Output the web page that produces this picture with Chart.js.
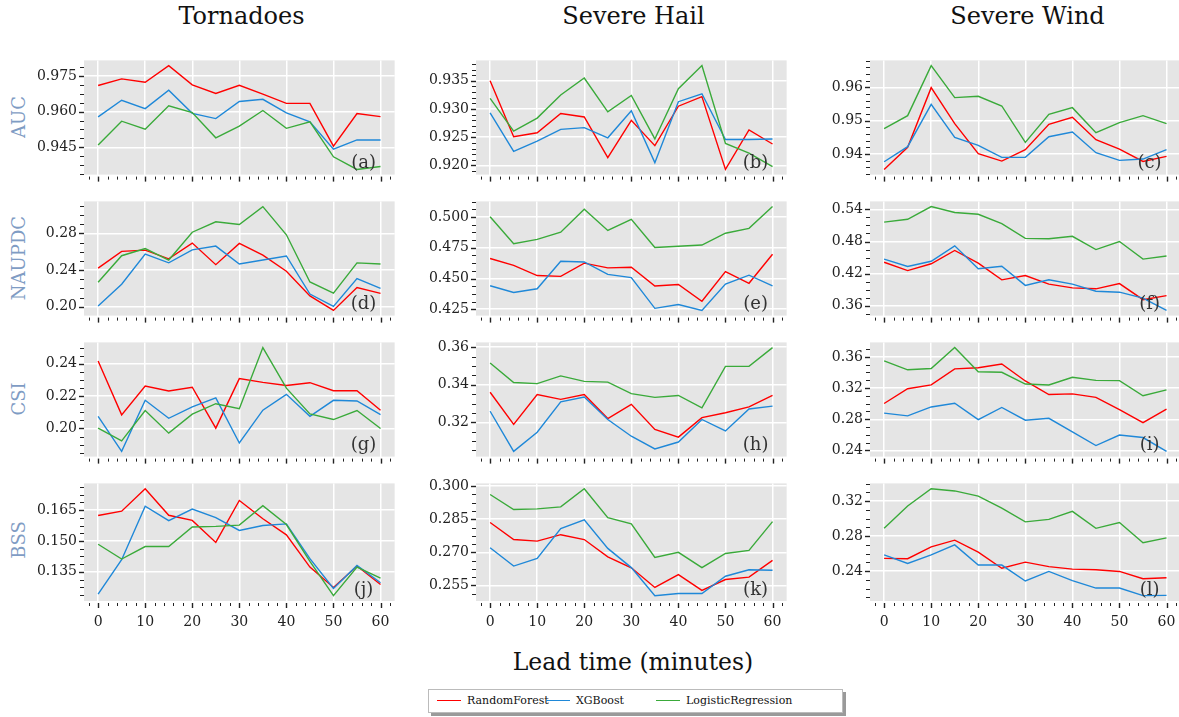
<!DOCTYPE html>
<html>
<head>
<meta charset="utf-8">
<script src="https://cdn.jsdelivr.net/npm/chart.js@4.4.1/dist/chart.umd.min.js"></script>
<style>
  body { margin: 0; width: 1179px; height: 717px; background: #fff; position: relative; overflow: hidden; font-family: "DejaVu Serif", serif; }
  canvas { position: absolute; }
  .col-title { position: absolute; width: 320px; text-align: center; font-size: 24px; color: #111; }
  .row-label { position: absolute; width: 200px; height: 24px; line-height: 24px; text-align: center; font-size: 18px; color: #7f9cc4; transform: rotate(-90deg); }
  .x-title { position: absolute; left: 433px; top: 648px; width: 400px; text-align: center; font-size: 23.5px; color: #111; }
  .legend { position: absolute; left: 428px; top: 689px; width: 413px; height: 22px; border: 1px solid #bbb; background: #fff; box-shadow: 3px 3px 0 #9a9a9a; font-size: 11px; color: #111; }
  .legend span.item { position: absolute; top: 4px; white-space: nowrap; }
  .legend i { display: inline-block; width: 24px; height: 0; border-top: 1.5px solid; vertical-align: middle; margin-right: 6px; position: relative; top: -1px; }
</style>
</head>
<body>
<div id="figure"></div>
<div class="x-title">Lead time (minutes)</div>
<div class="legend" id="legend"></div>

<script>
// lead times (minutes) shared by every panel
const leadTimes = [0, 5, 10, 15, 20, 25, 30, 35, 40, 45, 50, 55, 60];
const xTickLabels = ['0', '10', '20', '30', '40', '50', '60'];
const hazards = ['Tornadoes', 'Severe Hail', 'Severe Wind'];
const metrics = ['AUC', 'NAUPDC', 'CSI', 'BSS'];
const models = ['RandomForest', 'XGBoost', 'LogisticRegression'];
const modelColors = ['#ff0000', '#1f88d8', '#3aaa3a'];
const panelTags = ['(a)', '(b)', '(c)', '(d)', '(e)', '(f)', '(g)', '(h)', '(i)', '(j)', '(k)', '(l)'];

// each metric array: one row per hazard (tornado, hail, wind)
const aucRF = [
  [0.9710, 0.9738, 0.9724, 0.9794, 0.9713, 0.9677, 0.9711, 0.9674, 0.9635, 0.9635, 0.9455, 0.9592, 0.9579],
  [0.9350, 0.9251, 0.9258, 0.9292, 0.9286, 0.9214, 0.9280, 0.9235, 0.9305, 0.9322, 0.9193, 0.9263, 0.9238],
  [0.9354, 0.9420, 0.9599, 0.9491, 0.9401, 0.9379, 0.9413, 0.9489, 0.9510, 0.9443, 0.9415, 0.9378, 0.9393]
];
const aucXGB = [
  [0.9578, 0.9648, 0.9613, 0.9690, 0.9593, 0.9571, 0.9643, 0.9652, 0.9595, 0.9557, 0.9442, 0.9481, 0.9481],
  [0.9293, 0.9225, 0.9243, 0.9264, 0.9267, 0.9249, 0.9297, 0.9205, 0.9313, 0.9327, 0.9246, 0.9246, 0.9247],
  [0.9377, 0.9422, 0.9549, 0.9450, 0.9426, 0.9390, 0.9390, 0.9452, 0.9466, 0.9404, 0.9381, 0.9385, 0.9413]
];
const aucLR = [
  [0.9460, 0.9560, 0.9526, 0.9625, 0.9596, 0.9490, 0.9539, 0.9605, 0.9530, 0.9557, 0.9410, 0.9357, 0.9369],
  [0.9319, 0.9261, 0.9284, 0.9325, 0.9355, 0.9295, 0.9324, 0.9247, 0.9336, 0.9377, 0.9239, 0.9222, 0.9198],
  [0.9476, 0.9515, 0.9665, 0.9569, 0.9573, 0.9544, 0.9435, 0.9519, 0.9539, 0.9464, 0.9494, 0.9515, 0.9491]
];
const naupdcRF = [
  [0.2422, 0.2604, 0.2618, 0.2523, 0.2695, 0.2459, 0.2692, 0.2564, 0.2388, 0.2118, 0.1959, 0.2209, 0.2145],
  [0.4663, 0.4607, 0.4524, 0.4517, 0.4625, 0.4587, 0.4592, 0.4439, 0.4451, 0.4315, 0.4557, 0.4461, 0.4698],
  [0.4413, 0.4258, 0.4385, 0.4633, 0.4396, 0.4085, 0.4165, 0.4004, 0.3935, 0.3917, 0.4015, 0.3715, 0.3790]
];
const naupdcXGB = [
  [0.2007, 0.2246, 0.2574, 0.2479, 0.2621, 0.2662, 0.2466, 0.2510, 0.2554, 0.2138, 0.2003, 0.2307, 0.2199],
  [0.4441, 0.4386, 0.4416, 0.4640, 0.4635, 0.4534, 0.4507, 0.4257, 0.4288, 0.4240, 0.4454, 0.4527, 0.4439],
  [0.4471, 0.4333, 0.4431, 0.4719, 0.4292, 0.4338, 0.3981, 0.4085, 0.4004, 0.3871, 0.3854, 0.3744, 0.3514]
];
const naupdcLR = [
  [0.2267, 0.2557, 0.2635, 0.2510, 0.2814, 0.2928, 0.2898, 0.3094, 0.2786, 0.2270, 0.2148, 0.2479, 0.2466],
  [0.5003, 0.4784, 0.4819, 0.4877, 0.5065, 0.4892, 0.4982, 0.4753, 0.4763, 0.4773, 0.4869, 0.4909, 0.5086],
  [0.5163, 0.5215, 0.5452, 0.5342, 0.5308, 0.5135, 0.4858, 0.4852, 0.4898, 0.4650, 0.4800, 0.4471, 0.4529]
];
const csiRF = [
  [0.2417, 0.2084, 0.2262, 0.2232, 0.2255, 0.2002, 0.2308, 0.2285, 0.2266, 0.2283, 0.2233, 0.2233, 0.2113],
  [0.3360, 0.3189, 0.3348, 0.3322, 0.3348, 0.3220, 0.3296, 0.3162, 0.3121, 0.3225, 0.3251, 0.3282, 0.3343],
  [0.3002, 0.3192, 0.3240, 0.3446, 0.3461, 0.3509, 0.3291, 0.3117, 0.3125, 0.3081, 0.2923, 0.2757, 0.2931]
];
const csiXGB = [
  [0.2075, 0.1858, 0.2174, 0.2063, 0.2134, 0.2189, 0.1910, 0.2113, 0.2211, 0.2075, 0.2174, 0.2170, 0.2086],
  [0.3259, 0.3045, 0.3147, 0.3309, 0.3335, 0.3215, 0.3126, 0.3058, 0.3095, 0.3215, 0.3154, 0.3271, 0.3286],
  [0.2879, 0.2844, 0.2958, 0.3006, 0.2796, 0.2951, 0.2788, 0.2812, 0.2638, 0.2463, 0.2598, 0.2566, 0.2388]
];
const csiLR = [
  [0.2002, 0.1923, 0.2111, 0.1971, 0.2088, 0.2153, 0.2122, 0.2500, 0.2249, 0.2090, 0.2055, 0.2111, 0.2000],
  [0.3516, 0.3412, 0.3406, 0.3447, 0.3418, 0.3414, 0.3353, 0.3333, 0.3343, 0.3277, 0.3498, 0.3498, 0.3598],
  [0.3549, 0.3434, 0.3450, 0.3719, 0.3410, 0.3402, 0.3252, 0.3240, 0.3339, 0.3299, 0.3295, 0.3101, 0.3176]
];
const bssRF = [
  [0.1624, 0.1645, 0.1754, 0.1625, 0.1600, 0.1493, 0.1697, 0.1608, 0.1530, 0.1373, 0.1274, 0.1378, 0.1288],
  [0.2835, 0.2758, 0.2751, 0.2780, 0.2758, 0.2680, 0.2630, 0.2541, 0.2599, 0.2528, 0.2577, 0.2588, 0.2664],
  [0.2546, 0.2542, 0.2678, 0.2754, 0.2616, 0.2433, 0.2502, 0.2451, 0.2422, 0.2415, 0.2396, 0.2312, 0.2323]
];
const bssXGB = [
  [0.1241, 0.1409, 0.1669, 0.1599, 0.1655, 0.1614, 0.1551, 0.1575, 0.1583, 0.1414, 0.1269, 0.1381, 0.1297],
  [0.2721, 0.2638, 0.2673, 0.2808, 0.2847, 0.2718, 0.2631, 0.2504, 0.2514, 0.2514, 0.2592, 0.2621, 0.2619],
  [0.2586, 0.2488, 0.2586, 0.2700, 0.2469, 0.2469, 0.2287, 0.2396, 0.2290, 0.2206, 0.2206, 0.2119, 0.2122]
];
const bssLR = [
  [0.1484, 0.1412, 0.1473, 0.1473, 0.1568, 0.1571, 0.1577, 0.1672, 0.1580, 0.1401, 0.1234, 0.1373, 0.1319],
  [0.2962, 0.2894, 0.2897, 0.2906, 0.2988, 0.2857, 0.2829, 0.2677, 0.2700, 0.2631, 0.2695, 0.2709, 0.2839],
  [0.2889, 0.3145, 0.3342, 0.3317, 0.3258, 0.3120, 0.2963, 0.2992, 0.3083, 0.2889, 0.2955, 0.2725, 0.2780]
];

// labelled y ticks for each panel
const aucTicks = [['0.945', '0.960', '0.975'], ['0.920', '0.925', '0.930', '0.935'], ['0.94', '0.95', '0.96']];
const naupdcTicks = [['0.20', '0.24', '0.28'], ['0.425', '0.450', '0.475', '0.500'], ['0.36', '0.42', '0.48', '0.54']];
const csiTicks = [['0.20', '0.22', '0.24'], ['0.32', '0.34', '0.36'], ['0.24', '0.28', '0.32', '0.36']];
const bssTicks = [['0.135', '0.150', '0.165'], ['0.255', '0.270', '0.285', '0.300'], ['0.24', '0.28', '0.32']];

const metricSeries = [[aucRF, aucXGB, aucLR], [naupdcRF, naupdcXGB, naupdcLR], [csiRF, csiXGB, csiLR], [bssRF, bssXGB, bssLR]];
const metricTicks = [aucTicks, naupdcTicks, csiTicks, bssTicks];

// figure layout
const colLeft = [84, 476, 870];
const rowTop = [55, 196, 337, 478];
const PLOT_W = 315;
const PLOT_H = 123;
const Y_AXIS_W = 80;
const PAD_TOP = 10;
const PAD_RIGHT = 4;
const FONT = 'DejaVu Serif';

const near = (a, b) => Math.abs(a - b) < 1e-9;

// matplotlib-style minor subdivisions: 5 for steps of 1/5/10, otherwise 4
function minorDivs(step) {
  const m = +(step / Math.pow(10, Math.floor(Math.log10(step) + 1e-9))).toFixed(6);
  return (m === 1 || m === 5 || m === 10) ? 5 : 4;
}

function tickList(min, max, step, isMajor) {
  const out = [];
  for (let k = Math.ceil(min / step - 1e-9); k * step <= max + 1e-12; k++) {
    const v = +(k * step).toFixed(10);
    out.push({ value: v, isMajor: isMajor(v) });
  }
  return out;
}

// grey panel background
const panelBg = {
  id: 'panelBg',
  beforeDraw(chart) {
    const { ctx, chartArea: a } = chart;
    ctx.save();
    ctx.fillStyle = '#e5e5e5';
    ctx.fillRect(a.left, a.top, a.right - a.left, a.bottom - a.top);
    ctx.restore();
  }
};

// outward tick marks, longer on major ticks
const tickMarks = {
  id: 'tickMarks',
  afterDraw(chart) {
    const { ctx, chartArea: a, scales: { x, y } } = chart;
    ctx.save();
    ctx.strokeStyle = '#222';
    x.ticks.forEach(t => {
      const px = Math.round(x.getPixelForValue(t.value)) + 0.5;
      ctx.lineWidth = t.isMajor ? 1.4 : 1;
      ctx.beginPath();
      ctx.moveTo(px, a.bottom + 2);
      ctx.lineTo(px, a.bottom + (t.isMajor ? 7 : 5));
      ctx.stroke();
    });
    y.ticks.forEach(t => {
      const py = Math.round(y.getPixelForValue(t.value)) + 0.5;
      ctx.lineWidth = t.isMajor ? 1.4 : 1;
      ctx.beginPath();
      ctx.moveTo(a.left - (t.isMajor ? 5 : 4), py);
      ctx.lineTo(a.left, py);
      ctx.stroke();
    });
    ctx.restore();
  }
};

// "(a)" ... "(l)" in the lower right corner
const panelTag = {
  id: 'panelTag',
  afterDatasetsDraw(chart, args, opts) {
    const { ctx, chartArea: a } = chart;
    ctx.save();
    ctx.font = `18px "${FONT}"`;
    ctx.fillStyle = '#333';
    ctx.textAlign = 'center';
    ctx.textBaseline = 'bottom';
    ctx.fillText(opts.text, a.left + 0.9 * (a.right - a.left), a.bottom - 2);
    ctx.restore();
  }
};

const figure = document.getElementById('figure');

hazards.forEach((h, c) => {
  const t = document.createElement('div');
  t.className = 'col-title';
  t.textContent = h;
  t.style.left = (colLeft[c] + PLOT_W / 2 - 160) + 'px';
  t.style.top = '2px';
  figure.appendChild(t);
});

metrics.forEach((m, r) => {
  const l = document.createElement('div');
  l.className = 'row-label';
  l.textContent = m;
  l.style.left = (19 - 100) + 'px';
  l.style.top = (rowTop[r] + PLOT_H / 2 - 12) + 'px';
  figure.appendChild(l);
});

metrics.forEach((metric, r) => {
  hazards.forEach((hazard, c) => {
    const bottomRow = r === metrics.length - 1;
    const xAxisH = bottomRow ? 36 : 12;
    const canvas = document.createElement('canvas');
    canvas.width = Y_AXIS_W + PLOT_W + PAD_RIGHT;
    canvas.height = PAD_TOP + PLOT_H + xAxisH;
    canvas.style.left = (colLeft[c] - Y_AXIS_W) + 'px';
    canvas.style.top = (rowTop[r] - PAD_TOP) + 'px';
    figure.appendChild(canvas);

    const series = metricSeries[r].map(s => s[c]);
    const labels = metricTicks[r][c];
    const majors = labels.map(Number);
    const majorStep = majors[1] - majors[0];
    const minorStep = majorStep / minorDivs(majorStep);

    // 5% margins around the data, like matplotlib autoscaling
    const all = series.flat();
    const lo = Math.min(...all), hi = Math.max(...all);
    const yMin = lo - 0.05 * (hi - lo);
    const yMax = hi + 0.05 * (hi - lo);
    const xMin = leadTimes[0] - 0.05 * (leadTimes[leadTimes.length - 1] - leadTimes[0]);
    const xMax = leadTimes[leadTimes.length - 1] + 0.05 * (leadTimes[leadTimes.length - 1] - leadTimes[0]);

    const xMajor = v => xTickLabels.some(s => near(Number(s), v));
    const yMajor = v => majors.some(s => Math.abs(s - v) < minorStep * 0.01);

    new Chart(canvas, {
      type: 'line',
      data: {
        datasets: models.map((m, k) => ({
          label: m,
          data: leadTimes.map((t, i) => ({ x: t, y: series[k][i] })),
          borderColor: modelColors[k],
          borderWidth: 1.4,
          pointRadius: 0,
          tension: 0,
          fill: false,
          order: models.length - 1 - k
        }))
      },
      options: {
        responsive: false,
        animation: false,
        devicePixelRatio: 1,
        layout: { padding: { top: PAD_TOP, right: PAD_RIGHT, left: 0, bottom: 0 } },
        plugins: {
          legend: { display: false },
          tooltip: { enabled: false },
          panelTag: { text: panelTags[r * hazards.length + c] }
        },
        scales: {
          x: {
            type: 'linear',
            min: xMin,
            max: xMax,
            afterBuildTicks: s => { s.ticks = tickList(xMin, xMax, 2, xMajor); },
            afterFit: s => { s.height = xAxisH; },
            border: { display: false },
            grid: {
              drawTicks: false,
              lineWidth: 1.5,
              color: ctx => (ctx.tick && ctx.tick.isMajor) ? '#ffffff' : 'rgba(0,0,0,0)'
            },
            ticks: {
              autoSkip: false,
              maxRotation: 0,
              padding: 13,
              color: '#222',
              font: { family: FONT, size: 14 },
              callback: v => (bottomRow && xMajor(v)) ? xTickLabels.find(s => near(Number(s), v)) : ''
            }
          },
          y: {
            min: yMin,
            max: yMax,
            afterBuildTicks: s => { s.ticks = tickList(yMin, yMax, minorStep, yMajor); },
            afterFit: s => { s.width = Y_AXIS_W; },
            border: { display: false },
            grid: {
              drawTicks: false,
              lineWidth: 1.5,
              color: ctx => (ctx.tick && ctx.tick.isMajor) ? '#ffffff' : 'rgba(0,0,0,0)'
            },
            ticks: {
              autoSkip: false,
              padding: 7,
              color: '#222',
              font: { family: FONT, size: 14 },
              callback: v => {
                const i = majors.findIndex(s => Math.abs(s - v) < minorStep * 0.01);
                return i >= 0 ? labels[i] : '';
              }
            }
          }
        }
      },
      plugins: [panelBg, tickMarks, panelTag]
    });
  });
});

// figure legend
const legend = document.getElementById('legend');
const legendX = [8, 117, 227];
models.forEach((m, k) => {
  const item = document.createElement('span');
  item.className = 'item';
  item.style.left = legendX[k] + 'px';
  item.innerHTML = `<i style="border-color:${modelColors[k]}"></i>${m}`;
  legend.appendChild(item);
});
</script>
</body>
</html>
